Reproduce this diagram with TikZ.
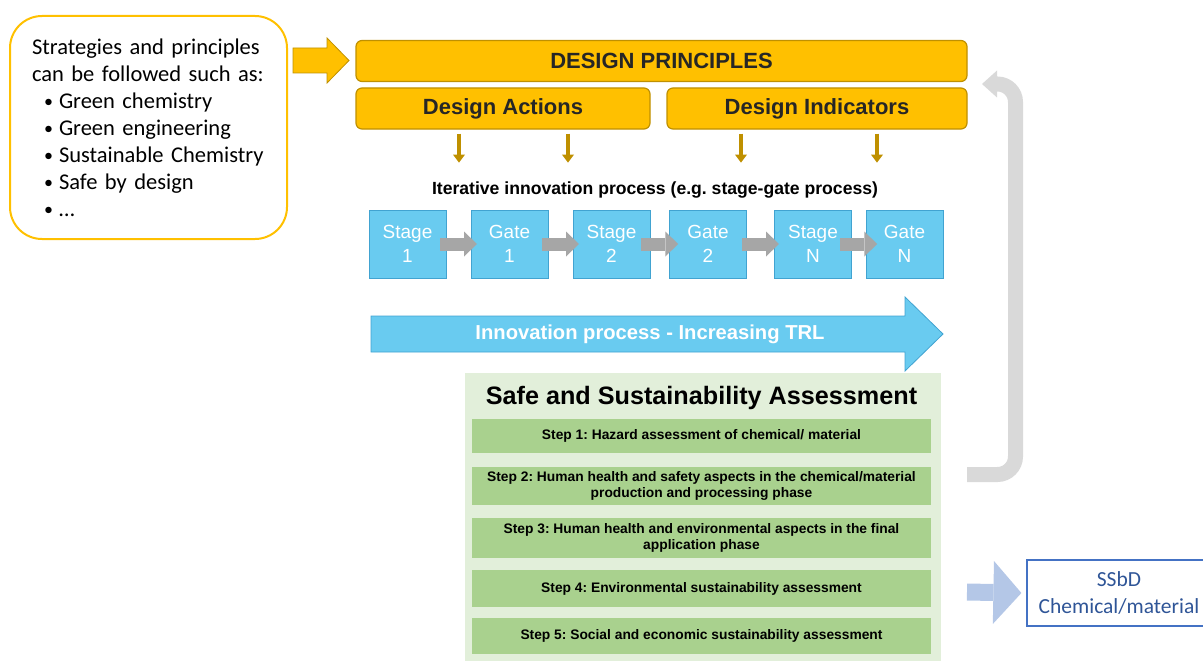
\documentclass[tikz,border=0pt]{standalone}
\usepackage{fontspec}
\setmainfont{Liberation Sans}
\newfontfamily\calibri{Carlito}
\usetikzlibrary{arrows.meta,calc}
\frenchspacing

\definecolor{gold}{HTML}{FFC000}
\definecolor{golddark}{HTML}{BF9000}
\definecolor{darktext}{HTML}{262626}
\definecolor{boxblue}{HTML}{69CBF0}
\definecolor{blueline}{HTML}{41A3D1}
\definecolor{arrgray}{HTML}{A6A6A6}
\definecolor{loopgray}{HTML}{D9D9D9}
\definecolor{panelgreen}{HTML}{E2EFDA}
\definecolor{stepgreen}{HTML}{A9D18E}
\definecolor{ssbdarr}{HTML}{B4C7E7}
\definecolor{ssbdline}{HTML}{4472C4}
\definecolor{ssbdtext}{HTML}{2F5597}

\newcommand{\stratitem}{\hspace*{12pt}\makebox[15pt][l]{\raisebox{1pt}{\fontsize{18}{18}\selectfont\textbullet}}}

\begin{document}
\begin{tikzpicture}[x=1pt, y=-1pt,
  stratbox/.style={draw=gold, line width=2pt, rounded corners=32pt, minimum width=277pt, minimum height=223pt,
    text width=233pt, inner xsep=22pt, align=left, font=\calibri\fontsize{22.5}{27}\selectfont},
  goldbox/.style={draw=golddark, fill=gold, line width=1.2pt, rounded corners=6pt, minimum height=41pt,
    text=darktext, font=\bfseries\fontsize{22}{26}\selectfont},
  sgbox/.style={draw=blueline, fill=boxblue, minimum width=77pt, minimum height=68pt, text=white,
    align=center, font=\fontsize{19}{24}\selectfont},
  sgarrow/.style={draw=arrgray, line width=13pt, -{Triangle[length=13pt,width=25pt,line width=0pt]}},
  downarrow/.style={draw=golddark, line width=4pt, -{Triangle[length=8pt,width=12pt,line width=0pt]}},
  stepbox/.style={fill=stepgreen, minimum width=459pt, align=center, font=\bfseries\fontsize{13.8}{16}\selectfont},
]
\useasboundingbox (0,0) rectangle (1203,661);
\clip (0,0) rectangle (1203,661);

% strategies
\node[stratbox] (strat) at (148.5,127.5) {Strategies and principles\\can be followed such as:\\
  \stratitem Green chemistry\\\stratitem Green engineering\\\stratitem Sustainable Chemistry\\
  \stratitem Safe by design\\\stratitem …};
\draw[draw=golddark, fill=gold, line width=0.8pt] (293,48) -- (327,48) -- (327,38) -- (349,60.5)
  -- (327,83) -- (327,73) -- (293,73) -- cycle;

% design principles
\node[goldbox, minimum width=611pt] (principles) at (661.5,61) {DESIGN PRINCIPLES};
\node[goldbox, minimum width=294pt] (actions) at (503,108.5) {Design Actions};
\node[goldbox, minimum width=300pt] (indicators) at (817,108.5) {Design Indicators};
\foreach \n/\dx in {actions/-44, actions/65, indicators/-76, indicators/60}
  \draw[downarrow] ([xshift=\dx pt, yshift=-4pt]\n.south) -- ++(0,29);

% stage-gate
\node[font=\bfseries\fontsize{17.6}{20}\selectfont] (iterative) at (655,190) {Iterative innovation process (e.g. stage-gate process)};
\node[sgbox] (st1) at (407.5,244) {Stage\\1};
\node[sgbox] (gt1) at (509.5,244) {Gate\\1};
\node[sgbox] (st2) at (611.5,244) {Stage\\2};
\node[sgbox] (gt2) at (708,244) {Gate\\2};
\node[sgbox] (stN) at (813,244) {Stage\\N};
\node[sgbox] (gtN) at (904.5,244) {Gate\\N};
\foreach \a/\b in {st1/gt1, gt1/st2, st2/gt2, gt2/stN, stN/gtN}
  \draw[sgarrow] ($(\a.east)!0.5!(\b.west)+(-18.5,0)$) -- ++(37,0);

\draw[draw=blueline, fill=boxblue, line width=0.8pt] (371,316) -- (905,316) -- (905,297) -- (943,334)
  -- (905,371) -- (905,352) -- (371,352) -- cycle;
\node[text=white, font=\bfseries\fontsize{20.2}{22}\selectfont] (trl) at (650,334) {Innovation process - Increasing TRL};

% assessment
\node[fill=panelgreen, minimum width=476pt, minimum height=288pt] (safe) at (703,517) {};
\node[font=\bfseries\fontsize{25.2}{30}\selectfont] (safetitle) at (701.5,398) {Safe and Sustainability Assessment};
\node[stepbox, minimum height=34pt] (step1) at (701.5,436) {Step 1: Hazard assessment of chemical/ material};
\node[stepbox, minimum height=38pt] (step2) at (701.5,486) {Step 2: Human health and safety aspects in the chemical/material\\production and processing phase};
\node[stepbox, minimum height=40pt] (step3) at (701.5,538) {Step 3: Human health and environmental aspects in the final\\application phase};
\node[stepbox, minimum height=37pt] (step4) at (701.5,588.5) {Step 4: Environmental sustainability assessment};
\node[stepbox, minimum height=36pt] (step5) at (701.5,636) {Step 5: Social and economic sustainability assessment};

% feedback loop
\coordinate (loopstart) at (967,474.5);
\coordinate (loopend) at (982,84);
\draw[draw=loopgray, line width=15pt, rounded corners=18pt, -{Triangle[length=15pt,width=27pt,line width=0pt]}]
  (loopstart) -- (1015.5,474.5) -- (1015.5,84) -- (loopend);

% result
\node[draw=ssbdline, line width=1.2pt, minimum width=184pt, minimum height=66pt, align=center, text=ssbdtext,
  font=\calibri\fontsize{21.5}{27}\selectfont] (ssbd) at (1119,593) {SSbD\\Chemical/material};
\coordinate (ssbdstart) at (967,592);
\draw[draw=ssbdarr, line width=17pt, -{Triangle[length=28pt,width=63pt,line width=0pt]}] (ssbdstart) -- ([xshift=-5pt]ssbd.west);
\end{tikzpicture}
\end{document}
